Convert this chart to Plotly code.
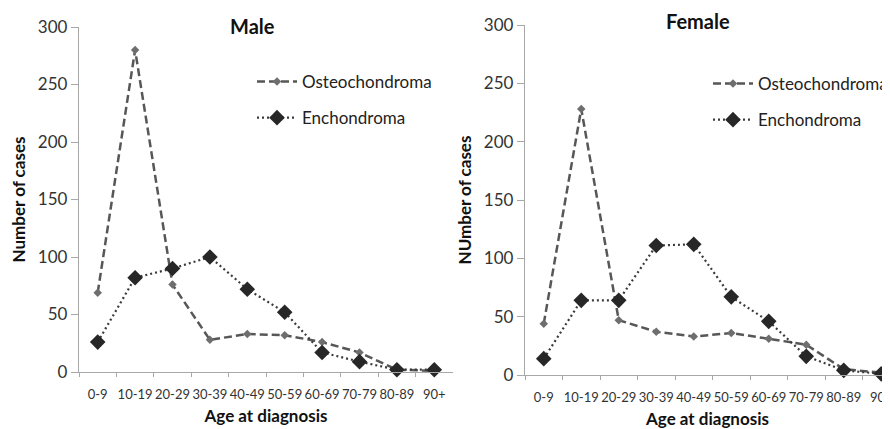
import plotly.graph_objects as go

categories = ["0-9", "10-19", "20-29", "30-39", "40-49", "50-59", "60-69", "70-79", "80-89", "90+"]
male_osteochondroma = [69, 280, 76, 28, 33, 32, 26, 17, 2, 1]
male_enchondroma = [26, 82, 90, 100, 72, 52, 17, 9, 2, 2]
female_osteochondroma = [44, 228, 47, 37, 33, 36, 31, 26, 5, 2]
female_enchondroma = [14, 64, 64, 111, 112, 67, 46, 16, 4, 1]
y_ticks = [0, 50, 100, 150, 200, 250, 300]

OFF = 8  # page body margin
W, H = 890 - OFF, 429 - OFF
FONT = "Lato"
OSTEO_LINE = "#575757"
OSTEO_MARK = "#6e6e6e"
ENCH_LINE = "#3a3a3a"
ENCH_MARK = "#272727"
AXIS = "#a8a8a8"

def px(x):
    return (x - OFF) / W

def py(y):
    return (H - (y - OFF)) / H

fig = go.Figure()

def add_panel(xa, ya, osteo, ench, legend):
    fig.add_trace(go.Scatter(
        x=categories, y=osteo, name="Osteochondroma", mode="lines+markers",
        xaxis=xa, yaxis=ya, legend=legend, legendgroup=legend + "o",
        line=dict(color=OSTEO_LINE, width=2.5, dash="8px,4px"),
        marker=dict(symbol="diamond", size=6.5, color=OSTEO_MARK),
        cliponaxis=False,
    ))
    fig.add_trace(go.Scatter(
        x=categories, y=ench, name="Enchondroma", mode="lines+markers",
        xaxis=xa, yaxis=ya, legend=legend, legendgroup=legend + "e",
        line=dict(color=ENCH_LINE, width=2.2, dash="2px,3px"),
        marker=dict(symbol="diamond", size=12, color=ENCH_MARK),
        cliponaxis=False,
    ))

add_panel("x", "y", male_osteochondroma, male_enchondroma, "legend")
add_panel("x2", "y2", female_osteochondroma, female_enchondroma, "legend2")

def xaxis_cfg(domain, rng):
    return dict(
        domain=domain, range=rng, type="category", showgrid=False, zeroline=False,
        showline=True, linecolor=AXIS, linewidth=1.3, automargin=False,
        ticks="outside", tickson="boundaries", ticklen=4, tickcolor=AXIS, tickwidth=1.3,
        tickangle=0,
        tickfont=dict(family=FONT, size=13, color="#333333"),
        ticklabelstandoff=10,
        title=dict(text="<b>Age at diagnosis</b>", font=dict(family=FONT, size=17, color="#111111"), standoff=9),
    )

def yaxis_cfg(domain, anchor, title):
    return dict(
        domain=domain, range=[0, 300], anchor=anchor, tickvals=y_ticks, showgrid=False, zeroline=False,
        showline=True, linecolor=AXIS, linewidth=1.3, automargin=False,
        ticks="outside", ticklen=7, tickcolor=AXIS, tickwidth=1.3,
        tickfont=dict(family=FONT, size=17, color="#333333"),
        title=dict(text="<b>" + title + "</b>", font=dict(family=FONT, size=17, color="#111111"), standoff=7),
    )

legend_common = dict(
    xanchor="left", yanchor="top", traceorder="grouped", tracegroupgap=11,
    font=dict(family=FONT, size=17, color="#222222"), bgcolor="rgba(0,0,0,0)",
    itemwidth=40,
)

fig.update_layout(
    width=W, height=H, margin=dict(l=0, r=0, t=0, b=0, autoexpand=False),
    paper_bgcolor="white", plot_bgcolor="white", showlegend=True,
    xaxis=dict(anchor="y", **xaxis_cfg([px(79), px(453)], [-0.5, 9.5])),
    yaxis=yaxis_cfg([py(372), py(27)], "x", "Number of cases"),
    xaxis2=dict(anchor="y2", **xaxis_cfg([px(525), 1.0], [-0.5, 9.5 - 10 / 37.5])),
    yaxis2=yaxis_cfg([py(375), py(25)], "x2", "NUmber of cases"),
    legend=dict(x=px(252), y=py(64), **legend_common),
    legend2=dict(x=px(708), y=py(66), **legend_common),
    annotations=[
        dict(text="<b>Male</b>", x=px(252), y=py(26), xref="paper", yref="paper",
             xanchor="center", yanchor="middle",
             showarrow=False, font=dict(family=FONT, size=20, color="#111111")),
        dict(text="<b>Female</b>", x=px(698), y=py(21), xref="paper", yref="paper",
             xanchor="center", yanchor="middle",
             showarrow=False, font=dict(family=FONT, size=20, color="#111111")),
    ],
)

fig.write_html("out.html")
